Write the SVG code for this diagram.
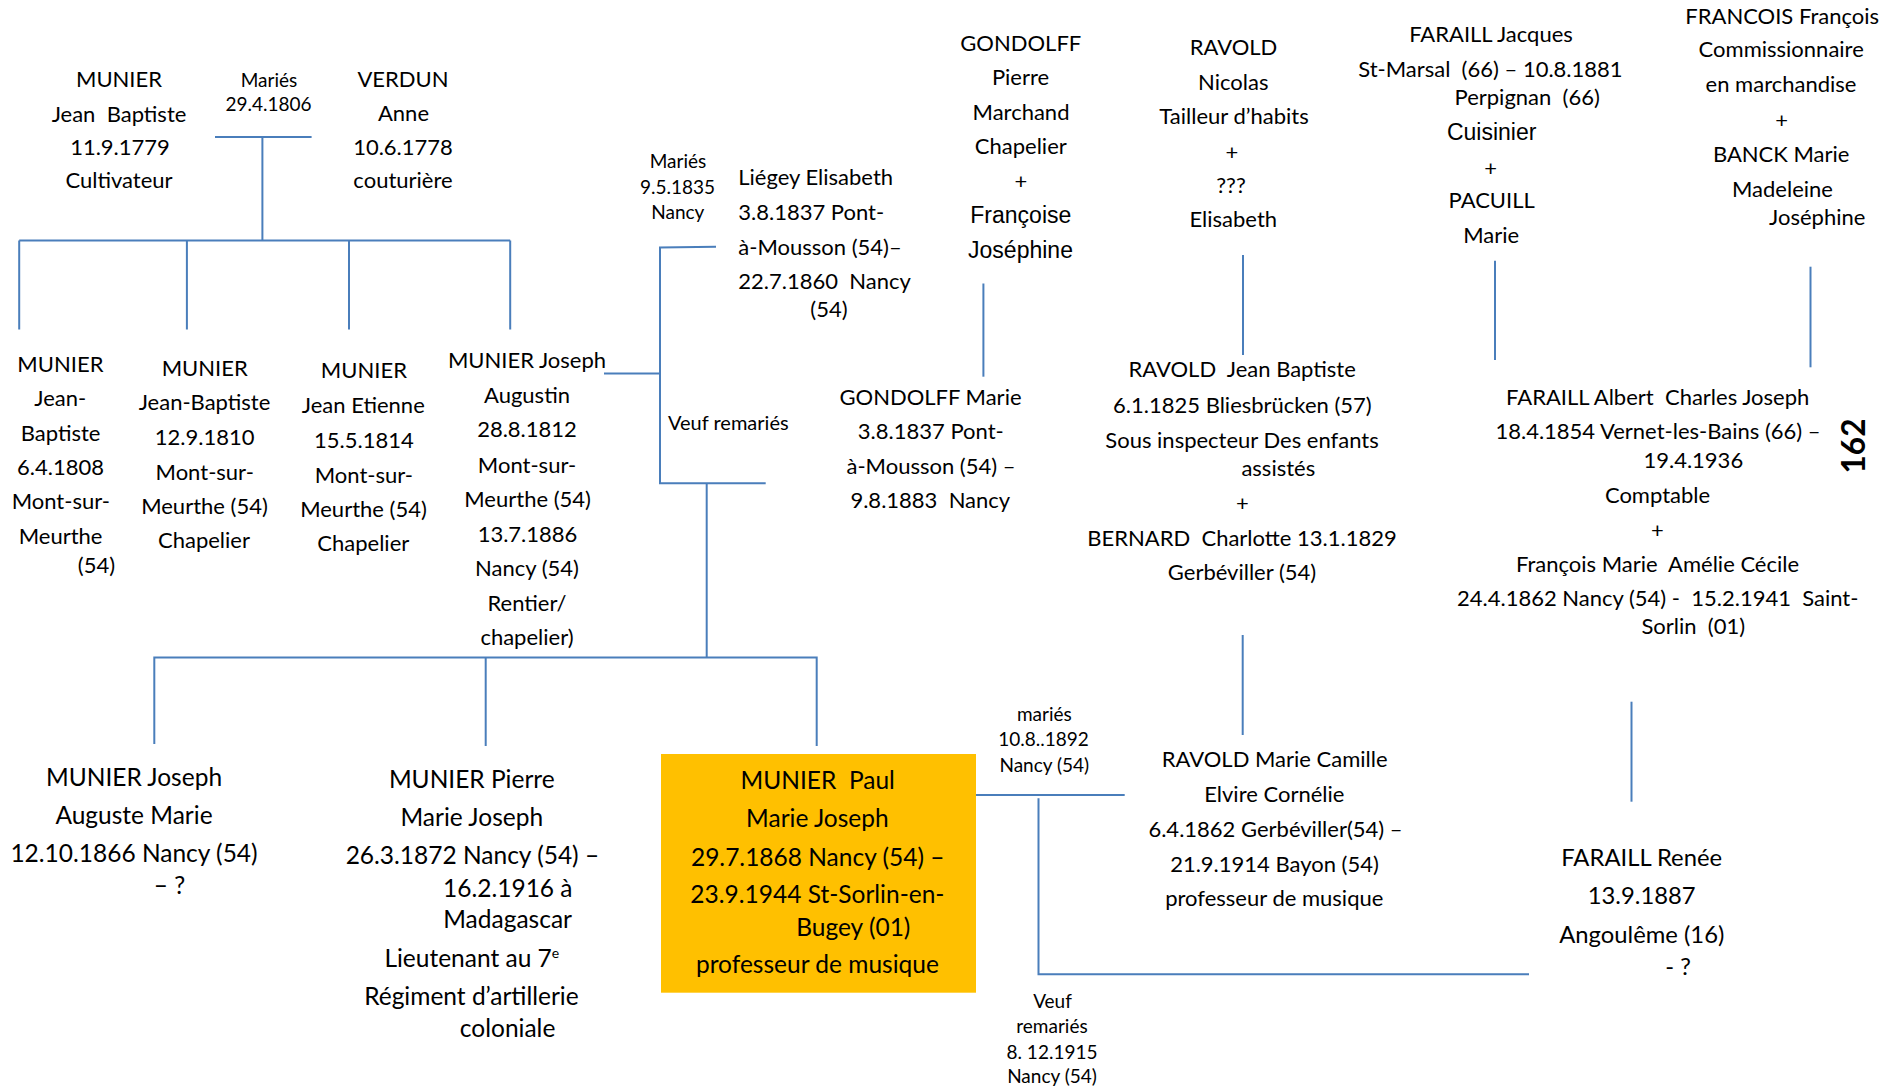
<svg xmlns="http://www.w3.org/2000/svg" width="1892" height="1090" viewBox="0 0 1892 1090">
<style>
text{font-family:Lato,"Liberation Sans",sans-serif;fill:#000;text-anchor:middle;white-space:pre}
.m{font-size:22px}
.s{font-size:19px}
.v{font-size:20px}
.b{font-size:24.5px}
.n{font-size:23.8px}
.r{font-size:22px}
.a{font-family:"Liberation Sans",Arial,sans-serif;font-size:23px}
.l{text-anchor:start}
.c path{stroke:#4A7EBB;stroke-width:2;fill:none}
</style>
<rect width="1892" height="1090" fill="#fff"/>
<g class="c" id="connectors">
<path d="M215 137H311.6"/>
<path d="M262.4 137V240.5"/>
<path d="M19.2 240.5H510.2"/>
<path d="M19.2 240.5V329.4M186.9 240.5V329.4M349 240.5V329.4M510.2 240.5V329.4"/>
<path d="M604 373.5H660"/>
<path d="M716 246.7L660 247.5V483.3H765.7"/>
<path d="M706.7 483.3V657.6"/>
<path d="M154.3 744V657.6H816.7V746"/>
<path d="M485.7 657.6V746"/>
<path d="M983.4 283.5V376.7"/>
<path d="M1243 255V355"/>
<path d="M1495 260.7V360"/>
<path d="M1810.5 266.7V367.3"/>
<path d="M1242.7 635V735"/>
<path d="M1631.5 701.7V801.7"/>
<path d="M973.5 795H1124.7"/>
<path d="M1038.5 798.3V974.3H1529"/>
</g>
<g id="munier-jean-baptiste">
<text class="m"><tspan x="119" y="86.7">MUNIER</tspan><tspan x="119" y="121.5">Jean  Baptiste</tspan><tspan x="120" y="155">11.9.1779</tspan><tspan x="119" y="188.3">Cultivateur</tspan></text>
</g>
<g id="maries-1806">
<text class="s"><tspan x="269" y="86.7">Mariés</tspan><tspan x="268.6" y="110.7">29.4.1806</tspan></text>
</g>
<g id="verdun-anne">
<text class="m"><tspan x="403" y="86.7">VERDUN</tspan><tspan x="403.5" y="120.5">Anne</tspan><tspan x="403" y="155">10.6.1778</tspan><tspan x="403" y="188">couturière</tspan></text>
</g>
<g id="munier-jb-1808">
<text class="m"><tspan x="60.4" y="371.7">MUNIER</tspan><tspan x="60.2" y="406">Jean-</tspan><tspan x="60.6" y="440.7">Baptiste</tspan><tspan x="60.6" y="475">6.4.1808</tspan><tspan x="60.8" y="509.3">Mont-sur-</tspan><tspan x="60.6" y="544">Meurthe</tspan><tspan x="96.5" y="572.7">(54)</tspan></text>
</g>
<g id="munier-jb-1810">
<text class="m"><tspan x="204.7" y="376">MUNIER</tspan><tspan x="204.5" y="410">Jean-Baptiste</tspan><tspan x="204.7" y="445">12.9.1810</tspan><tspan x="204.7" y="480">Mont-sur-</tspan><tspan x="204.5" y="514.3">Meurthe (54)</tspan><tspan x="204" y="548.3">Chapelier</tspan></text>
</g>
<g id="munier-jean-etienne">
<text class="m"><tspan x="363.9" y="378.3">MUNIER</tspan><tspan x="363.3" y="413.3">Jean Etienne</tspan><tspan x="363.9" y="448.3">15.5.1814</tspan><tspan x="363.9" y="482.7">Mont-sur-</tspan><tspan x="363.5" y="516.7">Meurthe (54)</tspan><tspan x="363.3" y="551">Chapelier</tspan></text>
</g>
<g id="munier-joseph-augustin">
<text class="m"><tspan x="527" y="368.3">MUNIER Joseph</tspan><tspan x="527" y="402.7">Augustin</tspan><tspan x="527" y="437.3">28.8.1812</tspan><tspan x="527" y="472.7">Mont-sur-</tspan><tspan x="527.6" y="506.7">Meurthe (54)</tspan><tspan x="527.5" y="541.7">13.7.1886</tspan><tspan x="527" y="576">Nancy (54)</tspan><tspan x="527" y="610.7">Rentier/</tspan><tspan x="527" y="645">chapelier)</tspan></text>
</g>
<g id="maries-1835">
<text class="s"><tspan x="678" y="168.3">Mariés</tspan><tspan x="677.5" y="194.3">9.5.1835</tspan><tspan x="677.8" y="219.3">Nancy</tspan></text>
</g>
<g id="liegey-elisabeth">
<text class="m l"><tspan x="738.3" y="185">Liégey Elisabeth</tspan><tspan x="738.3" y="220">3.8.1837 Pont-</tspan><tspan x="738.3" y="255">à-Mousson (54)–</tspan><tspan x="738.3" y="289.3">22.7.1860  Nancy</tspan></text>
<text class="m"><tspan x="829" y="317">(54)</tspan></text>
</g>
<g id="veuf-remaries-1">
<text class="v"><tspan x="728.3" y="430">Veuf remariés</tspan></text>
</g>
<g id="gondolff-pierre">
<text class="m"><tspan x="1020.8" y="51">GONDOLFF</tspan><tspan x="1020.5" y="85">Pierre</tspan><tspan x="1021" y="120">Marchand</tspan><tspan x="1020.8" y="154.3">Chapelier</tspan><tspan x="1021" y="189">+</tspan></text>
<text class="a"><tspan x="1020.8" y="223.3">Françoise</tspan><tspan x="1020.5" y="257.7">Joséphine</tspan></text>
</g>
<g id="ravold-nicolas">
<text class="m"><tspan x="1233.5" y="55">RAVOLD</tspan><tspan x="1233.3" y="90">Nicolas</tspan><tspan x="1234" y="124">Tailleur d’habits</tspan><tspan x="1232" y="159.5">+</tspan><tspan x="1231" y="193.3">???</tspan><tspan x="1233.3" y="227.3">Elisabeth</tspan></text>
</g>
<g id="faraill-jacques">
<text class="m"><tspan x="1491" y="41.7">FARAILL Jacques</tspan><tspan x="1490.4" y="76.7">St-Marsal  (66) – 10.8.1881</tspan><tspan x="1527.2" y="105">Perpignan  (66)</tspan></text>
<text class="a"><tspan x="1491.7" y="140">Cuisinier</tspan></text>
<text class="m"><tspan x="1490.7" y="176">+</tspan><tspan x="1491.7" y="208.3">PACUILL</tspan><tspan x="1491.2" y="243.3">Marie</tspan></text>
</g>
<g id="francois-francois">
<text class="m"><tspan x="1782.2" y="23.5">FRANCOIS François</tspan><tspan x="1781.2" y="57.3">Commissionnaire</tspan><tspan x="1781" y="92">en marchandise</tspan><tspan x="1781.7" y="128">+</tspan><tspan x="1781.2" y="161.7">BANCK Marie</tspan><tspan x="1782.5" y="196.7">Madeleine</tspan><tspan x="1817.2" y="225">Joséphine</tspan></text>
</g>
<g id="gondolff-marie">
<text class="m"><tspan x="930.5" y="405">GONDOLFF Marie</tspan><tspan x="930.8" y="439.3">3.8.1837 Pont-</tspan><tspan x="931" y="474">à-Mousson (54) –</tspan><tspan x="930.3" y="508.3">9.8.1883  Nancy</tspan></text>
</g>
<g id="ravold-jean-baptiste">
<text class="m"><tspan x="1242.2" y="376.7">RAVOLD  Jean Baptiste</tspan><tspan x="1242.4" y="412.7">6.1.1825 Bliesbrücken (57)</tspan><tspan x="1242" y="448.3">Sous inspecteur Des enfants</tspan><tspan x="1278.3" y="476">assistés</tspan><tspan x="1242.3" y="511">+</tspan><tspan x="1242" y="546">BERNARD  Charlotte 13.1.1829</tspan><tspan x="1242" y="580">Gerbéviller (54)</tspan></text>
</g>
<g id="faraill-albert">
<text class="m"><tspan x="1657.7" y="405">FARAILL Albert  Charles Joseph</tspan><tspan x="1658" y="439.3">18.4.1854 Vernet-les-Bains (66) –</tspan><tspan x="1693.3" y="467.7">19.4.1936</tspan><tspan x="1657.5" y="502.7">Comptable</tspan><tspan x="1657.3" y="537.5">+</tspan><tspan x="1657.5" y="571.7">François Marie  Amélie Cécile</tspan><tspan x="1657.7" y="606">24.4.1862 Nancy (54) -  15.2.1941  Saint-</tspan><tspan x="1693.3" y="634.3">Sorlin  (01)</tspan></text>
</g>
<g id="page-number">
<text transform="translate(1865 446) rotate(-90)" style="font-size:31.5px;font-weight:bold">162</text>
</g>
<g id="munier-joseph-auguste">
<text class="b"><tspan x="134" y="786">MUNIER Joseph</tspan><tspan x="134" y="824.3">Auguste Marie</tspan><tspan x="134" y="861.7">12.10.1866 Nancy (54)</tspan><tspan x="169.4" y="894">– ?</tspan></text>
</g>
<g id="munier-pierre">
<text class="b"><tspan x="471.8" y="788.3">MUNIER Pierre</tspan><tspan x="471.8" y="826">Marie Joseph</tspan><tspan x="472.4" y="864">26.3.1872 Nancy (54) –</tspan><tspan x="507.8" y="896.7">16.2.1916 à</tspan><tspan x="507.6" y="928.3">Madagascar</tspan><tspan x="471.8" y="966.7">Lieutenant au 7<tspan dy="-9" style="font-size:14px">e</tspan></tspan><tspan x="471.4" y="1005">Régiment d’artillerie</tspan><tspan x="507.6" y="1036.7">coloniale</tspan></text>
</g>
<g id="munier-paul">
<rect x="661" y="754" width="315" height="238.7" fill="#FFC000"/>
<text class="b"><tspan x="817.7" y="789.3">MUNIER  Paul</tspan><tspan x="817.4" y="826.7">Marie Joseph</tspan><tspan x="817.7" y="866">29.7.1868 Nancy (54) –</tspan><tspan x="817.4" y="903.3">23.9.1944 St-Sorlin-en-</tspan><tspan x="853.3" y="936">Bugey (01)</tspan><tspan x="817.4" y="972.7">professeur de musique</tspan></text>
</g>
<g id="maries-1892">
<text class="s"><tspan x="1044.3" y="720.7">mariés</tspan><tspan x="1043.5" y="746">10.8..1892</tspan><tspan x="1044.3" y="771.7">Nancy (54)</tspan></text>
</g>
<g id="ravold-marie-camille">
<text class="r"><tspan x="1274.7" y="767.3">RAVOLD Marie Camille</tspan><tspan x="1274.3" y="801.7">Elvire Cornélie</tspan><tspan x="1275.5" y="836.7">6.4.1862 Gerbéviller(54) –</tspan><tspan x="1274.5" y="871.7">21.9.1914 Bayon (54)</tspan><tspan x="1274.3" y="906">professeur de musique</tspan></text>
</g>
<g id="veuf-remaries-1915">
<text class="s"><tspan x="1052.5" y="1008.3">Veuf</tspan><tspan x="1052" y="1033.3">remariés</tspan><tspan x="1052" y="1059.3">8. 12.1915</tspan><tspan x="1052" y="1083">Nancy (54)</tspan></text>
</g>
<g id="faraill-renee">
<text class="n"><tspan x="1641.7" y="865.7">FARAILL Renée</tspan><tspan x="1641.7" y="904.3">13.9.1887</tspan><tspan x="1641.8" y="943.3">Angoulême (16)</tspan><tspan x="1678" y="975">- ?</tspan></text>
</g>
</svg>
